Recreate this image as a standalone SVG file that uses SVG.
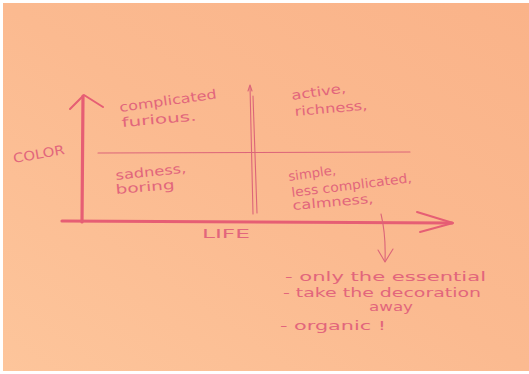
<svg xmlns="http://www.w3.org/2000/svg" width="529" height="374" viewBox="0 0 529 374">
<defs>
<linearGradient id="paper" x1="1" y1="0" x2="0" y2="1">
<stop offset="0" stop-color="#FAB389"/>
<stop offset="0.5" stop-color="#FBBA90"/>
<stop offset="1" stop-color="#FDC59B"/>
</linearGradient>
<style>
.ink{fill:none;stroke:#E65E74;stroke-linecap:round;stroke-linejoin:round}
.thick{stroke-width:3.2}
.mid{stroke-width:2}
.thin{stroke-width:1.1;stroke:#DC6579}
.t{font-family:"DejaVu Sans","Liberation Sans",sans-serif;font-size:13px;fill:#E2667C}
</style>
</defs>
<rect x="0" y="0" width="529" height="374" fill="#FFFFFF"/>
<rect x="3" y="3" width="526" height="368" fill="url(#paper)"/>
<g id="connectors">
<path class="ink thick" d="M82 222 L83 96"/>
<path class="ink mid" d="M70 109 L84 95 L103 107"/>
<path class="ink thick" d="M62 221 L452 223"/>
<path class="ink mid" d="M417 212 L453 223 L420 232"/>
<path class="ink thin" d="M98 153 L410 152"/>
<path class="ink thin" d="M250 86 L253 214 M253 96 L257 213"/>
<path class="ink thin" d="M248 91 L250 85 L252 91"/>
<path class="ink thin" d="M381 214 Q386 235 385 261"/>
<path class="ink thin" d="M378 250 L385 262 L393 249"/>
</g>
<g id="axis-color"><text class="t" transform="translate(14 163) rotate(-10)" textLength="52" lengthAdjust="spacingAndGlyphs">COLOR</text></g>
<g id="axis-life"><text class="t" x="202" y="238" textLength="48" lengthAdjust="spacingAndGlyphs">LIFE</text></g>
<g id="q-top-left">
<text class="t" transform="translate(120 112) rotate(-8)" textLength="98" lengthAdjust="spacingAndGlyphs">complicated</text>
<text class="t" transform="translate(122 127) rotate(-5)" textLength="75" lengthAdjust="spacingAndGlyphs">furious.</text>
</g>
<g id="q-top-right">
<text class="t" transform="translate(292 100) rotate(-8)" textLength="55" lengthAdjust="spacingAndGlyphs">active,</text>
<text class="t" transform="translate(295 116) rotate(-5)" textLength="73" lengthAdjust="spacingAndGlyphs">richness,</text>
</g>
<g id="q-bottom-left">
<text class="t" transform="translate(116 180) rotate(-6)" textLength="71" lengthAdjust="spacingAndGlyphs">sadness,</text>
<text class="t" transform="translate(116 194) rotate(-5)" textLength="59" lengthAdjust="spacingAndGlyphs">boring</text>
</g>
<g id="q-bottom-right">
<text class="t" transform="translate(289 181) rotate(-8)" textLength="48" lengthAdjust="spacingAndGlyphs">simple,</text>
<text class="t" transform="translate(292 197) rotate(-7)" textLength="121" lengthAdjust="spacingAndGlyphs">less complicated,</text>
<text class="t" transform="translate(293 210) rotate(-5)" textLength="81" lengthAdjust="spacingAndGlyphs">calmness,</text>
</g>
<g id="notes">
<text class="t" x="285" y="281" textLength="201" lengthAdjust="spacingAndGlyphs">- only the essential</text>
<text class="t" x="283" y="297" textLength="198" lengthAdjust="spacingAndGlyphs">- take the decoration</text>
<text class="t" x="369" y="311" textLength="44" lengthAdjust="spacingAndGlyphs">away</text>
<text class="t" x="280" y="330" textLength="106" lengthAdjust="spacingAndGlyphs">- organic !</text>
</g>
</svg>
